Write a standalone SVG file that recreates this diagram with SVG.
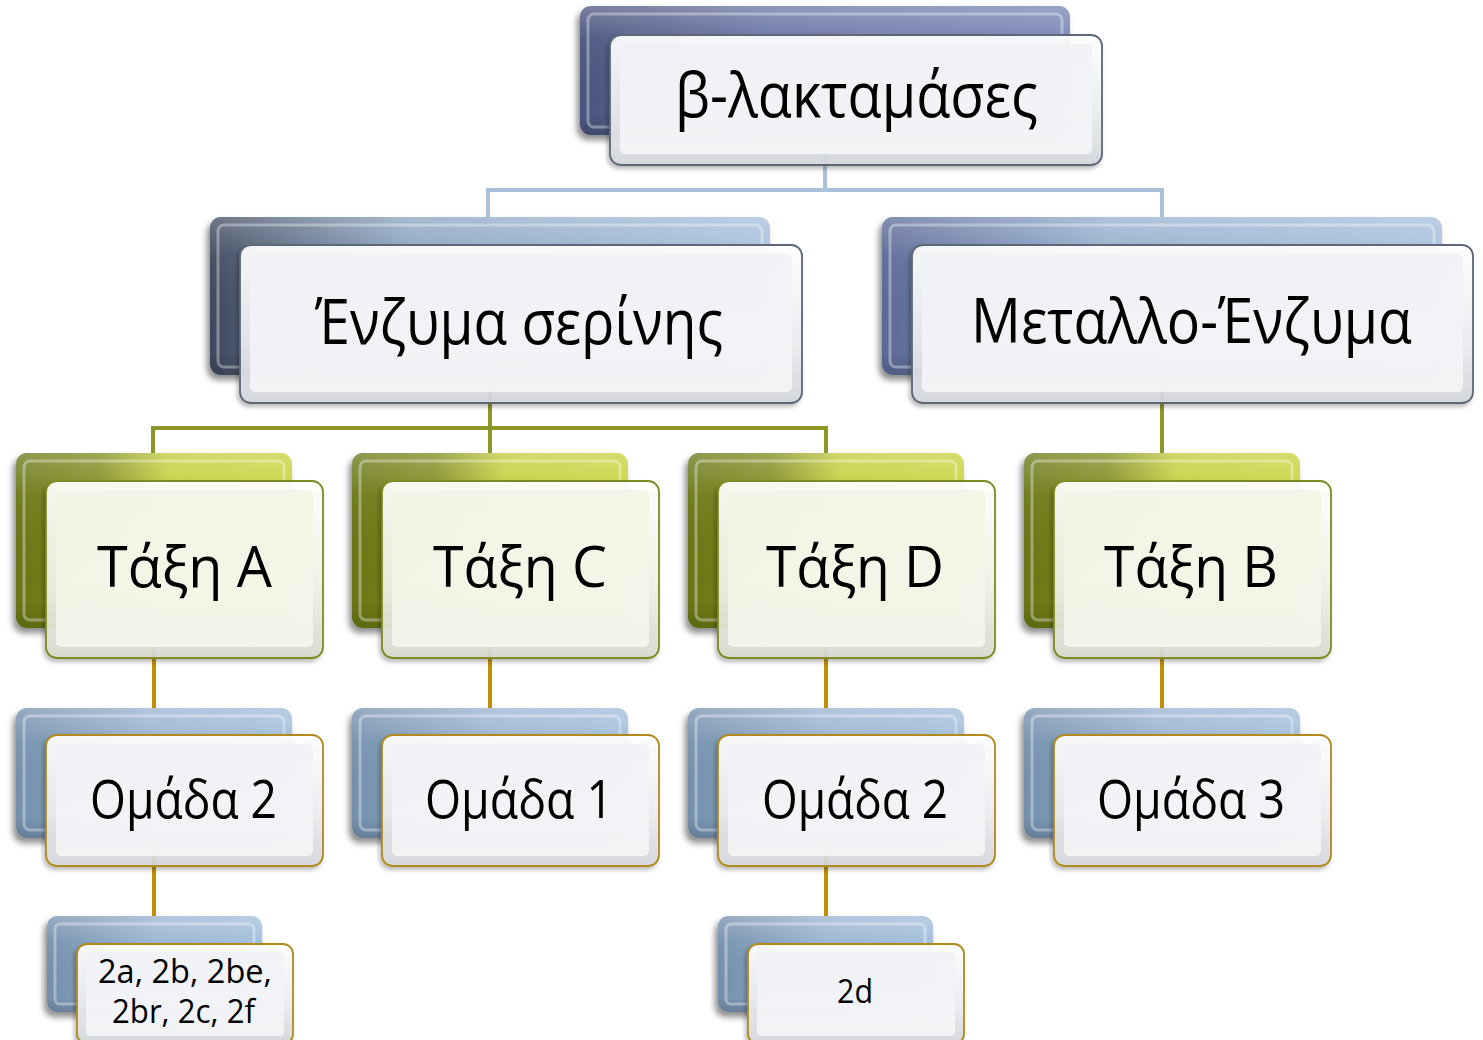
<svg xmlns="http://www.w3.org/2000/svg" width="1483" height="1040" viewBox="0 0 1483 1040">
  <defs>
    <style>
      .lbl { font-family: "Open Sans", "Noto Sans", "DejaVu Sans", sans-serif; fill: #000; }
      .t1 { font-size: 62px; }
      .t3 { font-size: 57px; }
      .t4 { font-size: 53px; }
      .t5 { font-size: 32px; }
      .back { filter: url(#shadowBack); }
      .front { filter: url(#shadowFront); }
      .bevelBack { fill: none; stroke: #ffffff; stroke-opacity: 0.35; stroke-width: 3; }
      .conn { fill: none; stroke-width: 4; stroke-linecap: butt; stroke-linejoin: miter; }
      .c-blue { stroke: #a9c1da; }
      .c-olive { stroke: #8f9628; }
      .c-gold { stroke: #c09000; }
      .edgeBlue { stroke: #5c6878; stroke-width: 1.8; }
      .edgeOlive { stroke: #7f8a22; stroke-width: 1.8; }
      .edgeGold { stroke: #b08a1e; stroke-width: 1.8; }
    </style>

    <filter id="shadowBack" x="-10%" y="-10%" width="120%" height="130%">
      <feDropShadow dx="-3" dy="5" stdDeviation="3" flood-color="#000" flood-opacity="0.45"/>
    </filter>
    <filter id="shadowFront" x="-10%" y="-10%" width="120%" height="130%">
      <feDropShadow dx="-2" dy="3" stdDeviation="2" flood-color="#000" flood-opacity="0.28"/>
    </filter>

    <!-- back plate fills -->
    <linearGradient id="gNavy" x1="0" y1="0" x2="1" y2="0">
      <stop offset="0" stop-color="#4b567f"/>
      <stop offset="0.4" stop-color="#6a76a6"/>
      <stop offset="1" stop-color="#7986b6"/>
    </linearGradient>
    <linearGradient id="gSteelL" x1="0" y1="0" x2="1" y2="0">
      <stop offset="0" stop-color="#3e4a5e"/>
      <stop offset="0.35" stop-color="#8aa3c0"/>
      <stop offset="1" stop-color="#a5c0dc"/>
    </linearGradient>
    <linearGradient id="gSteelR" x1="0" y1="0" x2="1" y2="0">
      <stop offset="0" stop-color="#5b6996"/>
      <stop offset="0.4" stop-color="#94aecd"/>
      <stop offset="1" stop-color="#a5c0dc"/>
    </linearGradient>
    <linearGradient id="gOlive" x1="0" y1="0" x2="1" y2="0">
      <stop offset="0" stop-color="#6a7614"/>
      <stop offset="0.3" stop-color="#7f8a1c"/>
      <stop offset="0.55" stop-color="#c2ce38"/>
      <stop offset="1" stop-color="#c8d33e"/>
    </linearGradient>
    <linearGradient id="gBlue" x1="0" y1="0" x2="1" y2="0">
      <stop offset="0" stop-color="#7590ad"/>
      <stop offset="0.5" stop-color="#99b4d1"/>
      <stop offset="1" stop-color="#a2bedb"/>
    </linearGradient>
    <!-- vertical sheen laid over back plates -->
    <linearGradient id="gSheen" x1="0" y1="0" x2="0" y2="1">
      <stop offset="0" stop-color="#ffffff" stop-opacity="0.25"/>
      <stop offset="0.25" stop-color="#ffffff" stop-opacity="0.05"/>
      <stop offset="0.85" stop-color="#000000" stop-opacity="0"/>
      <stop offset="1" stop-color="#000000" stop-opacity="0.15"/>
    </linearGradient>

    <!-- front plate bevel & face -->
    <linearGradient id="gEdge" x1="0" y1="0" x2="0" y2="1">
      <stop offset="0" stop-color="#ffffff"/>
      <stop offset="0.6" stop-color="#eceef1"/>
      <stop offset="1" stop-color="#d4d7dc"/>
    </linearGradient>
    <linearGradient id="gFaceGrey" x1="0" y1="0" x2="0" y2="1">
      <stop offset="0" stop-color="#eff1f5"/>
      <stop offset="1" stop-color="#f6f7f9"/>
    </linearGradient>
    <linearGradient id="gFaceCream" x1="0" y1="0" x2="0" y2="1">
      <stop offset="0" stop-color="#f3f4e4"/>
      <stop offset="1" stop-color="#f7f8ec"/>
    </linearGradient>
    <linearGradient id="gEdgeCream" x1="0" y1="0" x2="0" y2="1">
      <stop offset="0" stop-color="#ffffff"/>
      <stop offset="0.6" stop-color="#f1f2e6"/>
      <stop offset="1" stop-color="#d9dad0"/>
    </linearGradient>
  </defs>

  <rect width="1483" height="1040" fill="#ffffff"/>

  <!-- connectors -->
  <g id="connectors">
    <path class="conn c-blue" d="M825 135 V190 M488 190 H1162 M488 188 V218 M1162 188 V218"/>
    <path class="conn c-olive" d="M490 375 V455 M153 428 H826 M153 426 V455 M826 426 V455 M1162 375 V455"/>
    <path class="conn c-gold" d="M154 628 V709 M490 628 V709 M826 628 V709 M1162 628 V709"/>
    <path class="conn c-gold" d="M154 838 V917 M826 838 V917"/>
  </g>

  <!-- top: β-λακταμάσες -->
  <g id="node-beta-lactamases">
    <rect class="back" x="580" y="6" width="490" height="129" rx="11" fill="url(#gNavy)"/>
    <rect x="580" y="6" width="490" height="129" rx="11" fill="url(#gSheen)"/>
    <rect class="bevelBack" x="588" y="14" width="474" height="113" rx="6"/>
    <rect class="front edgeBlue" x="610" y="35" width="492" height="130" rx="11" fill="url(#gEdge)" fill-opacity="0.93"/>
    <rect x="620" y="44" width="472" height="110" rx="5" fill="url(#gFaceGrey)" fill-opacity="0.85"/>
    <text class="lbl t1" x="675" y="117" textLength="363" lengthAdjust="spacingAndGlyphs">β-λακταμάσες</text>
  </g>

  <!-- level 2 -->
  <g id="node-serine">
    <rect class="back" x="210" y="217" width="560" height="158" rx="11" fill="url(#gSteelL)"/>
    <rect x="210" y="217" width="560" height="158" rx="11" fill="url(#gSheen)"/>
    <rect class="bevelBack" x="218" y="225" width="544" height="142" rx="6"/>
    <rect class="front edgeBlue" x="240" y="245" width="562" height="158" rx="11" fill="url(#gEdge)" fill-opacity="0.93"/>
    <rect x="250" y="254" width="542" height="138" rx="5" fill="url(#gFaceGrey)" fill-opacity="0.85"/>
    <text class="lbl t1" x="315" y="344" textLength="408" lengthAdjust="spacingAndGlyphs">Ένζυμα σερίνης</text>
  </g>

  <g id="node-metallo">
    <rect class="back" x="882" y="217" width="560" height="158" rx="11" fill="url(#gSteelR)"/>
    <rect x="882" y="217" width="560" height="158" rx="11" fill="url(#gSheen)"/>
    <rect class="bevelBack" x="890" y="225" width="544" height="142" rx="6"/>
    <rect class="front edgeBlue" x="912" y="245" width="561" height="158" rx="11" fill="url(#gEdge)" fill-opacity="0.93"/>
    <rect x="922" y="254" width="541" height="138" rx="5" fill="url(#gFaceGrey)" fill-opacity="0.85"/>
    <text class="lbl t1" x="971" y="343" textLength="441" lengthAdjust="spacingAndGlyphs">Μεταλλο-Ένζυμα</text>
  </g>

  <!-- level 3: classes -->
  <g id="node-class-a">
    <rect class="back" x="16" y="453" width="276" height="175" rx="11" fill="url(#gOlive)"/>
    <rect x="16" y="453" width="276" height="175" rx="11" fill="url(#gSheen)"/>
    <rect class="bevelBack" x="24" y="461" width="260" height="159" rx="6"/>
    <rect class="front edgeOlive" x="46" y="481" width="277" height="177" rx="11" fill="url(#gEdgeCream)" fill-opacity="0.93"/>
    <rect x="56" y="490" width="257" height="157" rx="5" fill="url(#gFaceCream)" fill-opacity="0.85"/>
    <text class="lbl t3" x="97" y="587" textLength="175" lengthAdjust="spacingAndGlyphs">Τάξη A</text>
  </g>

  <g id="node-class-c">
    <rect class="back" x="352" y="453" width="276" height="175" rx="11" fill="url(#gOlive)"/>
    <rect x="352" y="453" width="276" height="175" rx="11" fill="url(#gSheen)"/>
    <rect class="bevelBack" x="360" y="461" width="260" height="159" rx="6"/>
    <rect class="front edgeOlive" x="382" y="481" width="277" height="177" rx="11" fill="url(#gEdgeCream)" fill-opacity="0.93"/>
    <rect x="392" y="490" width="257" height="157" rx="5" fill="url(#gFaceCream)" fill-opacity="0.85"/>
    <text class="lbl t3" x="433" y="587" textLength="174" lengthAdjust="spacingAndGlyphs">Τάξη C</text>
  </g>

  <g id="node-class-d">
    <rect class="back" x="688" y="453" width="276" height="175" rx="11" fill="url(#gOlive)"/>
    <rect x="688" y="453" width="276" height="175" rx="11" fill="url(#gSheen)"/>
    <rect class="bevelBack" x="696" y="461" width="260" height="159" rx="6"/>
    <rect class="front edgeOlive" x="718" y="481" width="277" height="177" rx="11" fill="url(#gEdgeCream)" fill-opacity="0.93"/>
    <rect x="728" y="490" width="257" height="157" rx="5" fill="url(#gFaceCream)" fill-opacity="0.85"/>
    <text class="lbl t3" x="766" y="587" textLength="178" lengthAdjust="spacingAndGlyphs">Τάξη D</text>
  </g>

  <g id="node-class-b">
    <rect class="back" x="1024" y="453" width="276" height="175" rx="11" fill="url(#gOlive)"/>
    <rect x="1024" y="453" width="276" height="175" rx="11" fill="url(#gSheen)"/>
    <rect class="bevelBack" x="1032" y="461" width="260" height="159" rx="6"/>
    <rect class="front edgeOlive" x="1054" y="481" width="277" height="177" rx="11" fill="url(#gEdgeCream)" fill-opacity="0.93"/>
    <rect x="1064" y="490" width="257" height="157" rx="5" fill="url(#gFaceCream)" fill-opacity="0.85"/>
    <text class="lbl t3" x="1104" y="587" textLength="174" lengthAdjust="spacingAndGlyphs">Τάξη B</text>
  </g>

  <!-- level 4: groups -->
  <g id="node-group-2a">
    <rect class="back" x="16" y="708" width="276" height="130" rx="11" fill="url(#gBlue)"/>
    <rect x="16" y="708" width="276" height="130" rx="11" fill="url(#gSheen)"/>
    <rect class="bevelBack" x="24" y="716" width="260" height="114" rx="6"/>
    <rect class="front edgeGold" x="46" y="735" width="277" height="131" rx="11" fill="url(#gEdge)" fill-opacity="0.93"/>
    <rect x="56" y="744" width="257" height="112" rx="5" fill="url(#gFaceGrey)" fill-opacity="0.85"/>
    <text class="lbl t4" x="90" y="818" textLength="187" lengthAdjust="spacingAndGlyphs">Ομάδα 2</text>
  </g>

  <g id="node-group-1">
    <rect class="back" x="352" y="708" width="276" height="130" rx="11" fill="url(#gBlue)"/>
    <rect x="352" y="708" width="276" height="130" rx="11" fill="url(#gSheen)"/>
    <rect class="bevelBack" x="360" y="716" width="260" height="114" rx="6"/>
    <rect class="front edgeGold" x="382" y="735" width="277" height="131" rx="11" fill="url(#gEdge)" fill-opacity="0.93"/>
    <rect x="392" y="744" width="257" height="112" rx="5" fill="url(#gFaceGrey)" fill-opacity="0.85"/>
    <text class="lbl t4" x="425" y="818" textLength="188" lengthAdjust="spacingAndGlyphs">Ομάδα 1</text>
  </g>

  <g id="node-group-2d">
    <rect class="back" x="688" y="708" width="276" height="130" rx="11" fill="url(#gBlue)"/>
    <rect x="688" y="708" width="276" height="130" rx="11" fill="url(#gSheen)"/>
    <rect class="bevelBack" x="696" y="716" width="260" height="114" rx="6"/>
    <rect class="front edgeGold" x="718" y="735" width="277" height="131" rx="11" fill="url(#gEdge)" fill-opacity="0.93"/>
    <rect x="728" y="744" width="257" height="112" rx="5" fill="url(#gFaceGrey)" fill-opacity="0.85"/>
    <text class="lbl t4" x="762" y="818" textLength="186" lengthAdjust="spacingAndGlyphs">Ομάδα 2</text>
  </g>

  <g id="node-group-3">
    <rect class="back" x="1024" y="708" width="276" height="130" rx="11" fill="url(#gBlue)"/>
    <rect x="1024" y="708" width="276" height="130" rx="11" fill="url(#gSheen)"/>
    <rect class="bevelBack" x="1032" y="716" width="260" height="114" rx="6"/>
    <rect class="front edgeGold" x="1054" y="735" width="277" height="131" rx="11" fill="url(#gEdge)" fill-opacity="0.93"/>
    <rect x="1064" y="744" width="257" height="112" rx="5" fill="url(#gFaceGrey)" fill-opacity="0.85"/>
    <text class="lbl t4" x="1097" y="818" textLength="188" lengthAdjust="spacingAndGlyphs">Ομάδα 3</text>
  </g>

  <!-- level 5: subgroups -->
  <g id="node-subgroups-2">
    <rect class="back" x="47" y="916" width="215" height="96" rx="10" fill="url(#gBlue)"/>
    <rect x="47" y="916" width="215" height="96" rx="10" fill="url(#gSheen)"/>
    <rect class="bevelBack" x="55" y="924" width="199" height="80" rx="5"/>
    <rect class="front edgeGold" x="77" y="944" width="216" height="100" rx="10" fill="url(#gEdge)" fill-opacity="0.93"/>
    <rect x="86" y="952" width="198" height="84" rx="4" fill="url(#gFaceGrey)" fill-opacity="0.85"/>
    <text class="lbl t5" x="98" y="983" textLength="174" lengthAdjust="spacingAndGlyphs">2a, 2b, 2be,</text>
    <text class="lbl t5" x="112" y="1023" textLength="143" lengthAdjust="spacingAndGlyphs">2br, 2c, 2f</text>
  </g>

  <g id="node-subgroup-2d">
    <rect class="back" x="718" y="916" width="215" height="96" rx="10" fill="url(#gBlue)"/>
    <rect x="718" y="916" width="215" height="96" rx="10" fill="url(#gSheen)"/>
    <rect class="bevelBack" x="726" y="924" width="199" height="80" rx="5"/>
    <rect class="front edgeGold" x="748" y="944" width="216" height="100" rx="10" fill="url(#gEdge)" fill-opacity="0.93"/>
    <rect x="757" y="952" width="198" height="84" rx="4" fill="url(#gFaceGrey)" fill-opacity="0.85"/>
    <text class="lbl t5" x="837" y="1003" textLength="36" lengthAdjust="spacingAndGlyphs">2d</text>
  </g>
</svg>
